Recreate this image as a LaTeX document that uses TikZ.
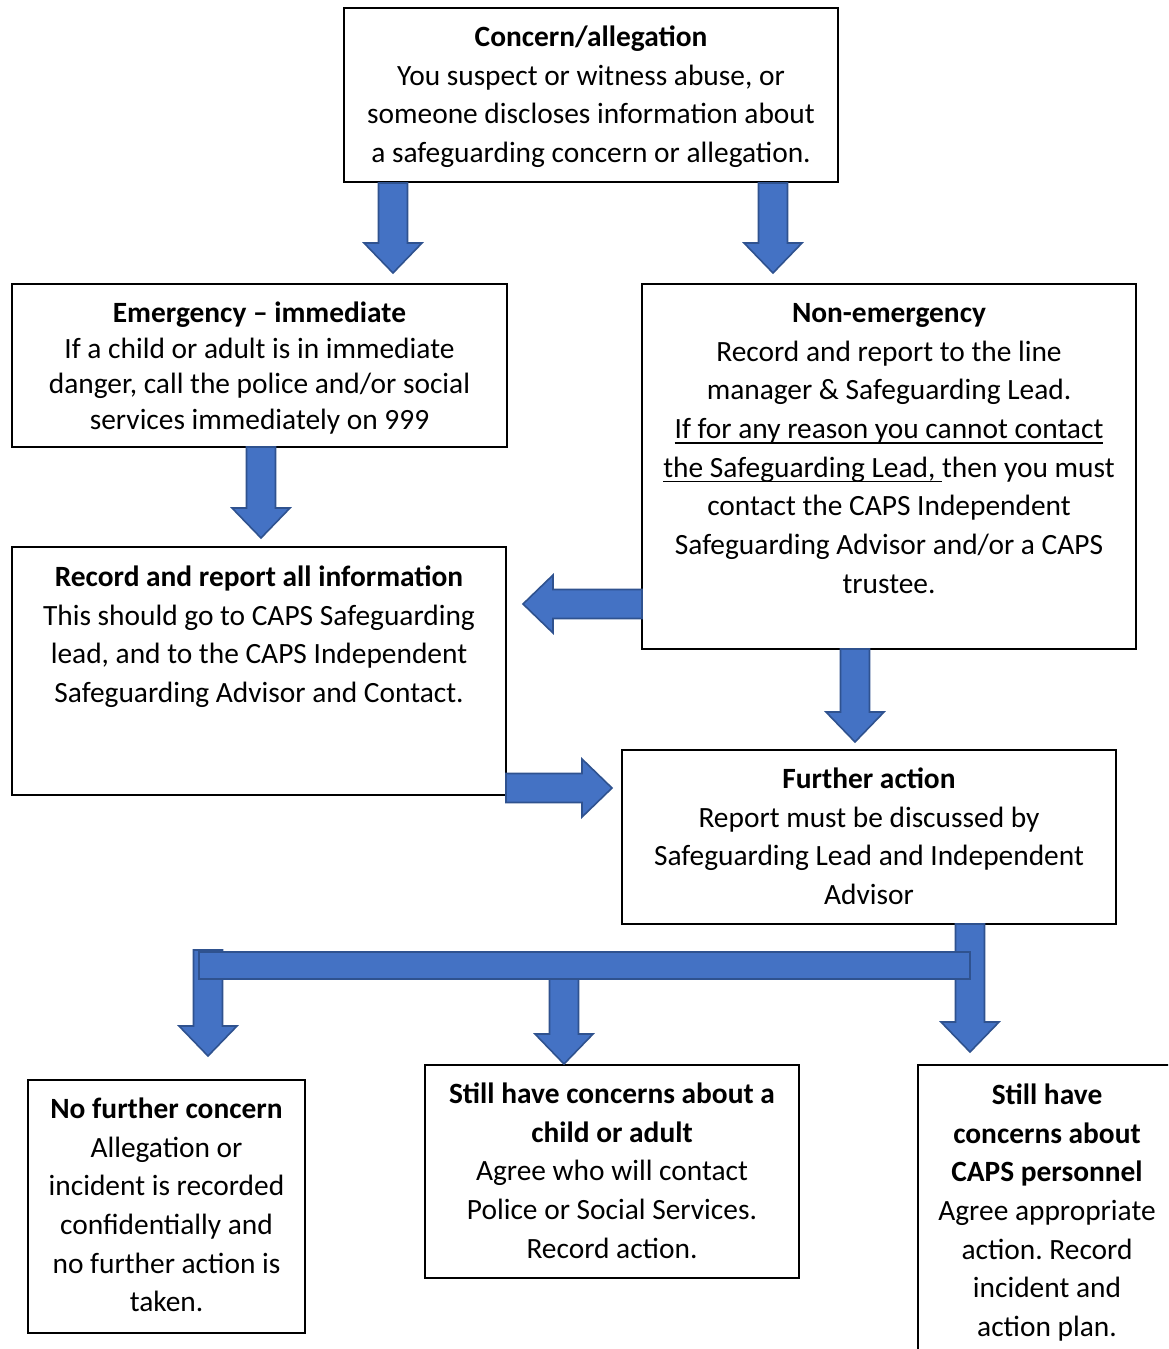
\documentclass[tikz,border=0pt]{standalone}
\usepackage{fontspec}
\setmainfont{Carlito}
\frenchspacing
\usetikzlibrary{calc}
\newsavebox\ulbox
\newcommand\myul[1]{\sbox\ulbox{#1}\rlap{\rule[-2.6pt]{\wd\ulbox}{0.8pt}}\usebox\ulbox}
\definecolor{arrfill}{HTML}{4472C4}
\definecolor{arrline}{HTML}{2F528F}
\tikzset{
  boxst/.style={draw=black, line width=1pt, fill=white, inner sep=0pt},
  txt/.style={anchor=north, align=center, inner sep=0pt, font=\fontsize{14.7pt}{19.35pt}\selectfont},
  txtb/.style={anchor=north, align=center, inner sep=0pt, font=\fontsize{14.7pt}{17.85pt}\selectfont},
  barrow/.style={fill=arrfill, draw=arrline, line width=0.8pt, line join=miter},
}
% vertical block arrow: x, ytop, ytip
\newcommand\blockdown[3]{%
  \draw[barrow] ({#1-14.5},#2) -- ({#1+14.5},#2) -- ({#1+14.5},{#3-30}) -- ({#1+29},{#3-30}) -- (#1,#3) -- ({#1-29},{#3-30}) -- ({#1-14.5},{#3-30}) -- cycle;}
% horizontal block arrow: ycenter, xstart, xtip, direction
\newcommand\blockhor[4]{%
  \draw[barrow] (#2,{#1-14.5}) -- (#2,{#1+14.5}) -- ({#3-#4*30},{#1+14.5}) -- ({#3-#4*30},{#1+29}) -- (#3,#1) -- ({#3-#4*30},{#1-29}) -- ({#3-#4*30},{#1-14.5}) -- cycle;}
\begin{document}
\begin{tikzpicture}[x=0.5pt, y=-0.5pt]
\clip (0,0) rectangle (1168,1349);
\fill[white] (0,0) rectangle (1168,1349);

% boxes
\draw[boxst] (344,8) rectangle (838,182);
\draw[boxst] (12,284) rectangle (507,447);
\draw[boxst] (642,284) rectangle (1136,649);
\draw[boxst] (12,547) rectangle (506,795);
\draw[boxst] (622,750) rectangle (1116,924);
\draw[boxst] (28,1080) rectangle (305,1333);
\draw[boxst] (425,1065) rectangle (799,1278);
\draw[boxst] (918,1065) rectangle (1180,1400);

% texts (north = first baseline - strut height)
\node[txt] (t1) at (591,{46-27.1}) {\strut\textbf{Concern/allegation}\\You suspect or witness abuse, or\\someone discloses information about\\a safeguarding concern or allegation.};
\node[txtb] (t2) at (259.5,{322-25}) {\strut\textbf{Emergency – immediate}\\If a child or adult is in immediate\\danger, call the police and/or social\\services immediately on 999};
\node[txt] (t3) at (889,{322-27.1}) {\strut\textbf{Non-emergency}\\Record and report to the line\\manager \& Safeguarding Lead.\\\myul{If for any reason you cannot contact}\\\myul{the Safeguarding Lead,\ }then you must\\contact the CAPS Independent\\Safeguarding Advisor and/or a CAPS\\trustee.};
\node[txt] (t4) at (259,{586-27.1}) {\strut\textbf{Record and report all information}\\This should go to CAPS Safeguarding\\lead, and to the CAPS Independent\\Safeguarding Advisor and Contact.};
\node[txt] (t5) at (869,{788-27.1}) {\strut\textbf{Further action}\\Report must be discussed by\\Safeguarding Lead and Independent\\Advisor};
\node[txt] (t6) at (166.5,{1118-27.1}) {\strut\textbf{No further concern}\\Allegation or\\incident is recorded\\confidentially and\\no further action is\\taken.};
\node[txt] (t7) at (612,{1103-27.1}) {\strut\textbf{Still have concerns about a}\\\textbf{child or adult}\\Agree who will contact\\Police or Social Services.\\Record action.};
\node[txt] (t8) at (1047,{1104-27.1}) {\strut\textbf{Still have}\\\textbf{concerns about}\\\textbf{CAPS personnel}\\Agree appropriate\\action. Record\\incident and\\action plan.};

% arrows
\blockdown{393}{183}{273}
\blockdown{773}{183}{273}
\blockdown{261}{447}{538}
\blockhor{604}{642}{523}{-1}
\blockdown{855}{649}{742}
\blockhor{788}{506}{612}{1}
\blockdown{970}{924}{1052}
\blockdown{208}{950}{1056}
\blockdown{564}{979}{1064}
\draw[barrow] (199,952) rectangle (970,979);
\end{tikzpicture}
\end{document}
